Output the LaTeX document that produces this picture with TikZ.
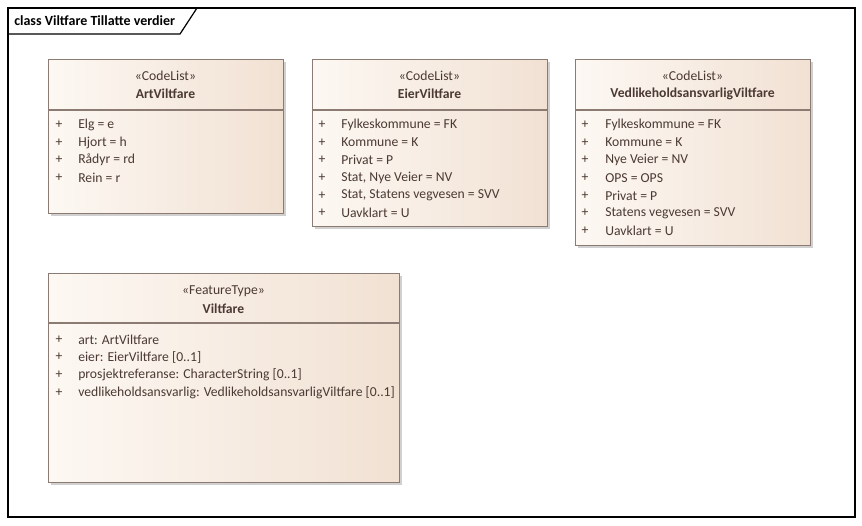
\documentclass[tikz,border=0pt]{standalone}
\usepackage{fontspec}
\setmainfont{Carlito}
\usetikzlibrary{shadows}
\definecolor{boxline}{HTML}{8C7B73}
\definecolor{txt}{HTML}{4B3A33}
\definecolor{fillL}{HTML}{FDF8F3}
\definecolor{fillR}{HTML}{F1E1D3}
\tikzset{
  umlbox/.style={draw=boxline, line width=0.8pt, left color=fillL, right color=fillR,
    drop shadow={shadow xshift=2pt, shadow yshift=-2pt, fill=black!30, opacity=0.6},
    anchor=north west, inner sep=0pt},
  divline/.style={draw=boxline, line width=0.8pt},
  stereo/.style={font=\fontsize{10.25}{12}\selectfont},
  cname/.style={font=\fontsize{10.25}{12}\selectfont\bfseries},
  attr/.style={anchor=west, font=\fontsize{10.25}{12}\selectfont},
  plus/.style={font=\fontsize{10.25}{12}\selectfont},
}
\newcommand{\attrlist}[5]{% prefix, x plus, x text, y start, list
  \foreach \t [count=\i] in {#5} {
    \node[plus] (#1p\i) at (#2, {#4+(\i-1)*17.6}) {+};
    \node[attr] (#1a\i) at (#3, {#4+(\i-1)*17.6}) {\t};
  }}
\begin{document}
\begin{tikzpicture}[x=0.75pt,y=-0.75pt, every node/.style={text=txt, inner sep=0pt}]
\useasboundingbox (0,0) rectangle (862,525);
\fill[white] (0,0) rectangle (862,525);
% frame
\draw[black, line width=0.9pt] (8,8) rectangle (855,517);
\draw[black, line width=0.9pt] (8,34) -- (180,34) -- (197,8);
\node[anchor=west, text=black, font=\fontsize{10.5}{12}\selectfont\bfseries] (title) at (14,21) {class Viltfare Tillatte verdier};

% ArtViltfare
\node[umlbox, minimum width=235*0.75pt, minimum height=154*0.75pt] (art) at (48,59) {};
\draw[divline] (48,110) -- (283,110);
\node[stereo] (artS) at (165.5,76) {«CodeList»};
\node[cname] (artN) at (165.5,93.5) {ArtViltfare};
\attrlist{art}{59}{78}{125}{Elg = e, Hjort = h, Rådyr = rd, Rein = r}

% EierViltfare
\node[umlbox, minimum width=235*0.75pt, minimum height=167*0.75pt] (eier) at (312,59) {};
\draw[divline] (312,110) -- (547,110);
\node[stereo] (eierS) at (429.5,76) {«CodeList»};
\node[cname] (eierN) at (429.5,93.5) {EierViltfare};
\attrlist{eier}{322}{341}{125}{Fylkeskommune = FK, Kommune = K, Privat = P, {Stat, Nye Veier = NV}, {Stat, Statens vegvesen = SVV}, Uavklart = U}

% VedlikeholdsansvarligViltfare
\node[umlbox, minimum width=235*0.75pt, minimum height=186*0.75pt] (ved) at (575,59) {};
\draw[divline] (575,110) -- (810,110);
\node[stereo] (vedS) at (692.5,76) {«CodeList»};
\node[cname] (vedN) at (692.5,93.5) {VedlikeholdsansvarligViltfare};
\attrlist{ved}{585}{605}{125}{Fylkeskommune = FK, Kommune = K, Nye Veier = NV, OPS = OPS, Privat = P, Statens vegvesen = SVV, Uavklart = U}

% Viltfare
\node[umlbox, minimum width=351*0.75pt, minimum height=209*0.75pt] (vf) at (48,273) {};
\draw[divline] (48,323) -- (399,323);
\node[stereo] (vfS) at (223.5,291) {«FeatureType»};
\node[cname] (vfN) at (223.5,308.5) {Viltfare};
\attrlist{vf}{59}{78}{339.5}{art: ArtViltfare, eier: EierViltfare [0..1], prosjektreferanse: CharacterString [0..1], vedlikeholdsansvarlig: VedlikeholdsansvarligViltfare [0..1]}
\end{tikzpicture}
\end{document}
